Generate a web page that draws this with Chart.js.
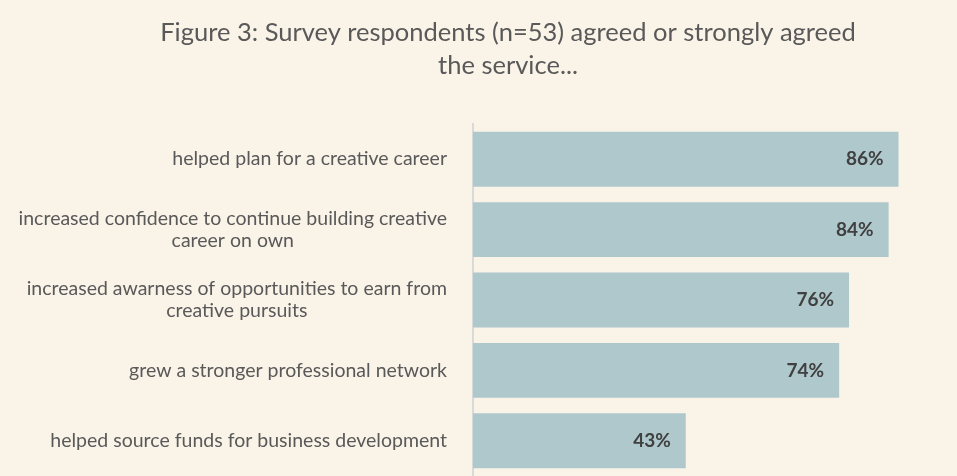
<!DOCTYPE html>
<html>
<head>
<meta charset="utf-8">
<script src="https://cdn.jsdelivr.net/npm/chart.js@4"></script>
<style>
html,body{margin:0;padding:0;background:#FAF3E8;overflow:hidden;}
#wrap{width:957px;height:476px;position:relative;}
</style>
</head>
<body>
<div id="wrap"><canvas id="c" width="957" height="476"></canvas></div>
<script>
const titleLines = ["Figure 3: Survey respondents (n=53) agreed or strongly agreed", "the service..."];
const categories = [
  ["helped plan for a creative career"],
  ["increased confidence to continue building creative", "career on own"],
  ["increased awarness of opportunities to earn from", "creative pursuits"],
  ["grew a stronger professional network"],
  ["helped source funds for business development"]
];
const values = [86, 84, 76, 74, 43];

const FONT = "Lato, 'Open Sans', sans-serif";

const customText = {
  id: 'customText',
  afterDraw(chart) {
    const ctx = chart.ctx;
    ctx.save();
    // title
    ctx.fillStyle = '#595959';
    ctx.font = '25.5px ' + FONT;
    ctx.textAlign = 'center';
    ctx.textBaseline = 'middle';
    ctx.fillText(titleLines[0], 508, 33);
    ctx.fillText(titleLines[1], 508, 66);
    // category labels
    const y = chart.scales.y;
    ctx.font = '19.5px ' + FONT;
    categories.forEach((lines, i) => {
      const cy = y.getPixelForTick(i);
      let w = 0;
      lines.forEach(l => { w = Math.max(w, ctx.measureText(l).width); });
      const cx = 447 - w / 2;
      const lh = 22;
      const startY = cy - (lines.length - 1) * lh / 2;
      lines.forEach((l, j) => ctx.fillText(l, cx, startY + j * lh));
    });
    // data labels
    ctx.font = 'bold 19px ' + FONT;
    ctx.fillStyle = '#404040';
    ctx.textAlign = 'right';
    const meta = chart.getDatasetMeta(0);
    meta.data.forEach((bar, i) => {
      ctx.fillText(values[i] + '%', bar.x - 15, bar.y);
    });
    ctx.restore();
  }
};

new Chart(document.getElementById('c'), {
  type: 'bar',
  data: {
    labels: categories.map(c => c.join(' ')),
    datasets: [{
      data: values,
      backgroundColor: '#AFC8CC',
      borderWidth: 0,
      barPercentage: 0.78,
      categoryPercentage: 1.0
    }]
  },
  options: {
    indexAxis: 'y',
    responsive: false,
    animation: false,
    devicePixelRatio: 1,
    layout: { padding: { left: 473, right: 9, top: 124, bottom: 0 } },
    plugins: {
      legend: { display: false },
      title: { display: false },
      tooltip: { enabled: false }
    },
    scales: {
      x: {
        min: 0, max: 96,
        display: false,
        grid: { display: false }
      },
      y: {
        ticks: { display: false },
        grid: { display: false, drawTicks: false },
        border: { display: true, color: '#D9D9D9', width: 2 }
      }
    }
  },
  plugins: [customText]
});
</script>
</body>
</html>
